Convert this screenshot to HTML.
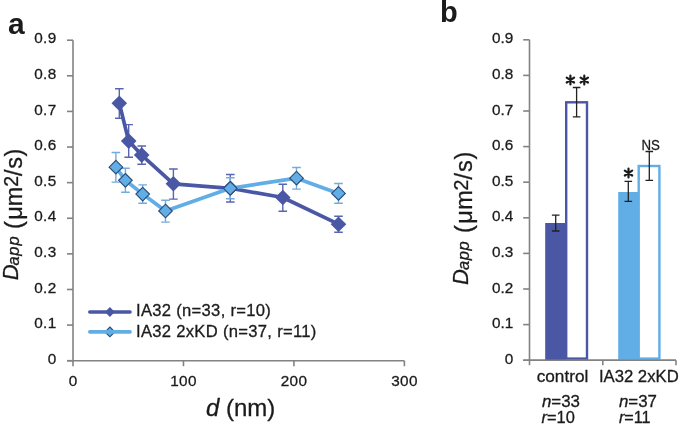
<!DOCTYPE html><html><head><meta charset="utf-8"><style>html,body{margin:0;padding:0;background:#fff;width:685px;height:426px;overflow:hidden}svg{display:block;will-change:transform}</style></head><body><svg width="685" height="426" viewBox="0 0 685 426">
<g stroke="#828282" stroke-width="1.6" fill="none">
<line x1="73.0" y1="40.2" x2="73.0" y2="360.7"/>
<line x1="67.0" y1="360.7" x2="404.4" y2="360.7"/>
<line x1="67.0" y1="360.70" x2="73.0" y2="360.70"/>
<line x1="67.0" y1="325.09" x2="73.0" y2="325.09"/>
<line x1="67.0" y1="289.48" x2="73.0" y2="289.48"/>
<line x1="67.0" y1="253.87" x2="73.0" y2="253.87"/>
<line x1="67.0" y1="218.26" x2="73.0" y2="218.26"/>
<line x1="67.0" y1="182.64" x2="73.0" y2="182.64"/>
<line x1="67.0" y1="147.03" x2="73.0" y2="147.03"/>
<line x1="67.0" y1="111.42" x2="73.0" y2="111.42"/>
<line x1="67.0" y1="75.81" x2="73.0" y2="75.81"/>
<line x1="67.0" y1="40.20" x2="73.0" y2="40.20"/>
<line x1="73.00" y1="360.7" x2="73.00" y2="366.2"/>
<line x1="183.47" y1="360.7" x2="183.47" y2="366.2"/>
<line x1="293.93" y1="360.7" x2="293.93" y2="366.2"/>
<line x1="404.40" y1="360.7" x2="404.40" y2="366.2"/>
</g>
<g font-family="Liberation Sans" font-size="15.3" letter-spacing="0.35" fill="#1b1b1b" stroke="#1b1b1b" stroke-width="0.3" text-anchor="end">
<text x="56.6" y="363.80">0</text>
<text x="56.6" y="328.19">0.1</text>
<text x="56.6" y="292.58">0.2</text>
<text x="56.6" y="256.97">0.3</text>
<text x="56.6" y="221.36">0.4</text>
<text x="56.6" y="185.74">0.5</text>
<text x="56.6" y="150.13">0.6</text>
<text x="56.6" y="114.52">0.7</text>
<text x="56.6" y="78.91">0.8</text>
<text x="56.6" y="43.30">0.9</text>
</g>
<g font-family="Liberation Sans" font-size="15.3" letter-spacing="0.35" fill="#1b1b1b" stroke="#1b1b1b" stroke-width="0.3" text-anchor="middle">
<text x="73.10" y="385.9">0</text>
<text x="183.57" y="385.9">100</text>
<text x="294.03" y="385.9">200</text>
<text x="404.50" y="385.9">300</text>
</g>
<text x="206" y="415.6" font-family="Liberation Sans" font-size="24" fill="#1b1b1b" stroke="#1b1b1b" stroke-width="0.3"><tspan font-style="italic">d</tspan> (nm)</text>
<g transform="translate(0,279.5) rotate(-90)" font-family="Liberation Sans" fill="#1b1b1b" stroke="#1b1b1b" stroke-width="0.3"><text x="-0.65" y="17.60" font-size="22" font-style="italic">D</text><text x="13.90" y="18.50" font-size="16.5" font-style="italic">a</text><text x="23.65" y="18.50" font-size="16.5" font-style="italic">p</text><text x="33.90" y="18.50" font-size="16.5" font-style="italic">p</text><text x="50.45" y="21.60" font-size="23.5">(</text><text x="59.75" y="21.60" font-size="23.5">μ</text><text x="73.30" y="21.60" font-size="23.5">m</text><text x="92.65" y="17.60" font-size="19.5">2</text><text x="103.40" y="21.60" font-size="23.5">/</text><text x="110.85" y="21.60" font-size="23.5">s</text><text x="123.10" y="21.60" font-size="23.5">)</text></g>
<text x="8" y="33.6" font-family="Liberation Sans" font-weight="bold" font-size="30" fill="#1b1b1b">a</text>
<text x="440" y="22" font-family="Liberation Sans" font-weight="bold" font-size="29" fill="#1b1b1b">b</text>
<path d="M119.3 88.7V118.3M115.0 88.7h8.6M115.0 118.3h8.6" stroke="#5865b0" stroke-width="1.4" fill="none"/>
<path d="M128.7 124.6V157.3M124.4 124.6h8.6M124.4 157.3h8.6" stroke="#5865b0" stroke-width="1.4" fill="none"/>
<path d="M141.7 146.0V164.3M137.4 146.0h8.6M137.4 164.3h8.6" stroke="#5865b0" stroke-width="1.4" fill="none"/>
<path d="M173.4 169.0V199.1M169.1 169.0h8.6M169.1 199.1h8.6" stroke="#5865b0" stroke-width="1.4" fill="none"/>
<path d="M230.3 174.5V202.0M226.0 174.5h8.6M226.0 202.0h8.6" stroke="#5865b0" stroke-width="1.4" fill="none"/>
<path d="M282.8 184.3V211.3M278.5 184.3h8.6M278.5 211.3h8.6" stroke="#5865b0" stroke-width="1.4" fill="none"/>
<path d="M338.5 216.3V232.3M334.2 216.3h8.6M334.2 232.3h8.6" stroke="#5865b0" stroke-width="1.4" fill="none"/>
<path d="M119.3 103.2 L128.7 141.1 L141.7 155.1 L173.4 183.8 L230.3 188.3 L282.8 197.5 L338.5 224.2" stroke="#4957a5" stroke-width="3.7" fill="none" stroke-linejoin="round"/>
<path d="M119.3 95.4L127.1 103.2L119.3 111.0L111.5 103.2Z" fill="#4957a5"/>
<path d="M128.7 133.3L136.5 141.1L128.7 148.9L120.9 141.1Z" fill="#4957a5"/>
<path d="M141.7 147.3L149.5 155.1L141.7 162.9L133.9 155.1Z" fill="#4957a5"/>
<path d="M173.4 176.0L181.2 183.8L173.4 191.6L165.6 183.8Z" fill="#4957a5"/>
<path d="M230.3 180.5L238.1 188.3L230.3 196.1L222.5 188.3Z" fill="#4957a5"/>
<path d="M282.8 189.7L290.6 197.5L282.8 205.3L275.0 197.5Z" fill="#4957a5"/>
<path d="M338.5 216.4L346.3 224.2L338.5 232.0L330.7 224.2Z" fill="#4957a5"/>
<path d="M115.9 152.5V182.1M111.6 152.5h8.6M111.6 182.1h8.6" stroke="#74abdc" stroke-width="1.4" fill="none"/>
<path d="M125.4 168.3V192.3M121.1 168.3h8.6M121.1 192.3h8.6" stroke="#74abdc" stroke-width="1.4" fill="none"/>
<path d="M142.7 184.9V203.2M138.4 184.9h8.6M138.4 203.2h8.6" stroke="#74abdc" stroke-width="1.4" fill="none"/>
<path d="M165.5 200.3V222.1M161.2 200.3h8.6M161.2 222.1h8.6" stroke="#74abdc" stroke-width="1.4" fill="none"/>
<path d="M230.3 177.7V198.8M226.0 177.7h8.6M226.0 198.8h8.6" stroke="#74abdc" stroke-width="1.4" fill="none"/>
<path d="M296.5 167.5V189.1M292.2 167.5h8.6M292.2 189.1h8.6" stroke="#74abdc" stroke-width="1.4" fill="none"/>
<path d="M338.5 183.5V203.2M334.2 183.5h8.6M334.2 203.2h8.6" stroke="#74abdc" stroke-width="1.4" fill="none"/>
<path d="M115.9 167.2 L125.4 180.3 L142.7 194.1 L165.5 211.0 L230.3 188.3 L296.5 178.2 L338.5 193.4" stroke="#61ade6" stroke-width="3.7" fill="none" stroke-linejoin="round"/>
<path d="M115.9 160.4L122.7 167.2L115.9 174.0L109.1 167.2Z" fill="#61ade6" stroke="#2d4b78" stroke-width="1.15"/>
<path d="M125.4 173.5L132.2 180.3L125.4 187.1L118.6 180.3Z" fill="#61ade6" stroke="#2d4b78" stroke-width="1.15"/>
<path d="M142.7 187.3L149.5 194.1L142.7 200.9L135.9 194.1Z" fill="#61ade6" stroke="#2d4b78" stroke-width="1.15"/>
<path d="M165.5 204.2L172.3 211.0L165.5 217.8L158.7 211.0Z" fill="#61ade6" stroke="#2d4b78" stroke-width="1.15"/>
<path d="M230.3 181.5L237.1 188.3L230.3 195.1L223.5 188.3Z" fill="#61ade6" stroke="#2d4b78" stroke-width="1.15"/>
<path d="M296.5 171.4L303.3 178.2L296.5 185.0L289.7 178.2Z" fill="#61ade6" stroke="#2d4b78" stroke-width="1.15"/>
<path d="M338.5 186.6L345.3 193.4L338.5 200.2L331.7 193.4Z" fill="#61ade6" stroke="#2d4b78" stroke-width="1.15"/>
<path d="M109.9 307.1L114.8 312L109.9 316.9L105 312Z" fill="#4957a5"/>
<path d="M89.8 312H130" stroke="#4957a5" stroke-width="3.6" stroke-linecap="round"/>
<path d="M109.9 327L114.8 331.9L109.9 336.8L105 331.9Z" fill="#61ade6" stroke="#2d4b78" stroke-width="1.1"/>
<path d="M89.8 331.9H130" stroke="#61ade6" stroke-width="3.6" stroke-linecap="round"/>
<g font-family="Liberation Sans" font-size="16.6" letter-spacing="0.3" fill="#1b1b1b" stroke="#1b1b1b" stroke-width="0.3">
<text x="136" y="315.7">IA32 (n=33, r=10)</text>
<text x="136" y="336.6">IA32 2xKD (n=37, r=11)</text>
</g>
<g stroke="#828282" stroke-width="1.6" fill="none">
<line x1="529.5" y1="39.8" x2="529.5" y2="360.2"/>
<line x1="523.2" y1="360.2" x2="676" y2="360.2"/>
<line x1="523.2" y1="360.20" x2="529.5" y2="360.20"/>
<line x1="523.2" y1="324.60" x2="529.5" y2="324.60"/>
<line x1="523.2" y1="289.00" x2="529.5" y2="289.00"/>
<line x1="523.2" y1="253.40" x2="529.5" y2="253.40"/>
<line x1="523.2" y1="217.80" x2="529.5" y2="217.80"/>
<line x1="523.2" y1="182.20" x2="529.5" y2="182.20"/>
<line x1="523.2" y1="146.60" x2="529.5" y2="146.60"/>
<line x1="523.2" y1="111.00" x2="529.5" y2="111.00"/>
<line x1="523.2" y1="75.40" x2="529.5" y2="75.40"/>
<line x1="523.2" y1="39.80" x2="529.5" y2="39.80"/>
<line x1="529.5" y1="360.2" x2="529.5" y2="365.2"/>
<line x1="602.8" y1="360.2" x2="602.8" y2="365.2"/>
<line x1="676" y1="360.2" x2="676" y2="365.2"/>
</g>
<g font-family="Liberation Sans" font-size="15.3" fill="#1b1b1b" stroke="#1b1b1b" stroke-width="0.3" text-anchor="end">
<text x="513.3" y="363.80">0</text>
<text x="513.3" y="328.20">0.1</text>
<text x="513.3" y="292.60">0.2</text>
<text x="513.3" y="257.00">0.3</text>
<text x="513.3" y="221.40">0.4</text>
<text x="513.3" y="185.80">0.5</text>
<text x="513.3" y="150.20">0.6</text>
<text x="513.3" y="114.60">0.7</text>
<text x="513.3" y="79.00">0.8</text>
<text x="513.3" y="43.40">0.9</text>
</g>
<rect x="545.2" y="223" width="21" height="137.2" fill="#4957a5"/>
<rect x="566.2" y="102.3" width="20.8" height="256.3" fill="#fff" stroke="#4957a5" stroke-width="2.4"/>
<rect x="618.2" y="192" width="21" height="168.2" fill="#61ade6"/>
<rect x="638.7" y="166" width="20.7" height="192.6" fill="#fff" stroke="#61ade6" stroke-width="2.4"/>
<line x1="529.5" y1="360.2" x2="676" y2="360.2" stroke="#828282" stroke-width="1.6"/>
<path d="M555.7 215.1V231M551.9000000000001 215.1h7.6M551.9000000000001 231h7.6" stroke="#222" stroke-width="1.3" fill="none"/>
<path d="M576.6 87.5V116.9M572.8000000000001 87.5h7.6M572.8000000000001 116.9h7.6" stroke="#222" stroke-width="1.3" fill="none"/>
<path d="M628.3 181.3V201.3M624.5 181.3h7.6M624.5 201.3h7.6" stroke="#222" stroke-width="1.3" fill="none"/>
<path d="M649.3 151.5V180.4M645.5 151.5h7.6M645.5 180.4h7.6" stroke="#222" stroke-width="1.3" fill="none"/>
<path d="M570.40 75.70V84.50M566.71 77.70L574.09 82.50M566.71 82.50L574.09 77.70" stroke="#1b1b1b" stroke-width="2.2" stroke-linecap="round" fill="none"/>
<path d="M584.30 75.70V84.50M580.61 77.70L587.99 82.50M580.61 82.50L587.99 77.70" stroke="#1b1b1b" stroke-width="2.2" stroke-linecap="round" fill="none"/>
<path d="M628.50 168.70V177.50M624.81 170.70L632.19 175.50M624.81 175.50L632.19 170.70" stroke="#1b1b1b" stroke-width="2.2" stroke-linecap="round" fill="none"/>
<text transform="translate(641.5 149.9) scale(0.83 0.96)" font-family="Liberation Sans" font-size="16" fill="#1b1b1b" stroke="#1b1b1b" stroke-width="0.3">NS</text>
<g transform="translate(450.2,284) rotate(-90)" font-family="Liberation Sans" fill="#1b1b1b" stroke="#1b1b1b" stroke-width="0.3"><text x="-0.90" y="17.60" font-size="22" font-style="italic">D</text><text x="14.00" y="18.50" font-size="16.5" font-style="italic">a</text><text x="23.75" y="18.50" font-size="16.5" font-style="italic">p</text><text x="33.40" y="18.50" font-size="16.5" font-style="italic">p</text><text x="51.10" y="21.60" font-size="23.5">(</text><text x="60.35" y="21.60" font-size="23.5">μ</text><text x="74.30" y="21.60" font-size="23.5">m</text><text x="93.55" y="17.60" font-size="19.5">2</text><text x="104.50" y="21.60" font-size="23.5">/</text><text x="112.05" y="21.60" font-size="23.5">s</text><text x="124.60" y="21.60" font-size="23.5">)</text></g>
<g font-family="Liberation Sans" font-size="16.7" fill="#1b1b1b" stroke="#1b1b1b" stroke-width="0.3" text-anchor="middle">
<text x="562.5" y="382.2" textLength="51.6" lengthAdjust="spacingAndGlyphs">control</text>
<text x="638.8" y="382.4">IA32 2xKD</text>
</g>
<g font-family="Liberation Sans" font-size="16" fill="#1b1b1b" stroke="#1b1b1b" stroke-width="0.3">
<text x="542" y="406.5" textLength="38" lengthAdjust="spacingAndGlyphs"><tspan font-style="italic">n</tspan>=33</text>
<text x="541.5" y="422.9" textLength="33.3" lengthAdjust="spacingAndGlyphs"><tspan font-style="italic">r</tspan>=10</text>
<text x="619" y="406.5" textLength="38" lengthAdjust="spacingAndGlyphs"><tspan font-style="italic">n</tspan>=37</text>
<text x="619" y="422.9" textLength="31.6" lengthAdjust="spacingAndGlyphs"><tspan font-style="italic">r</tspan>=11</text>
</g>
</svg></body></html>
